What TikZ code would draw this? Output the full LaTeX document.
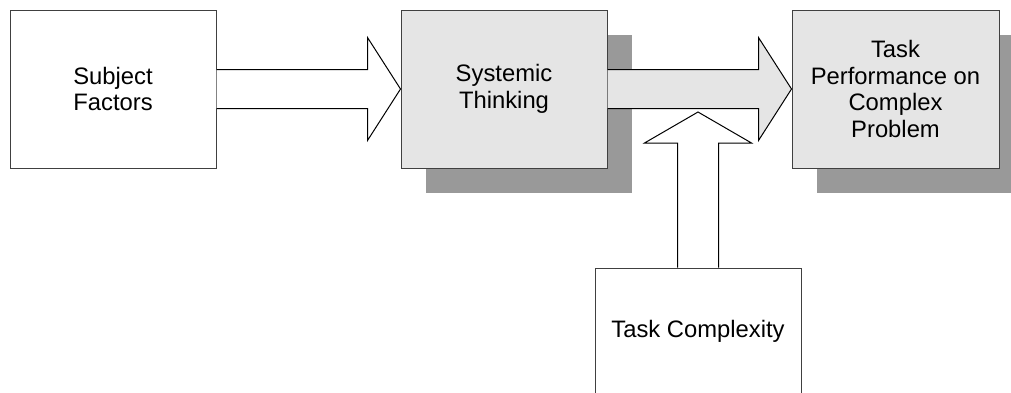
\documentclass[tikz,border=0pt]{standalone}
\usepackage{fontspec}
\setmainfont{Liberation Sans}
\usetikzlibrary{calc,shadows}

\begin{document}
\begin{tikzpicture}[x=0.5pt,y=-0.5pt,
  box/.style={draw=black!75,line width=0.5pt,fill=white,minimum width=103pt,minimum height=79pt,
    inner sep=0pt,align=center,font=\fontsize{11.9}{13.2}\selectfont},
  shadowbox/.style={box,fill=black!10,
    drop shadow={shadow xshift=12.5pt,shadow yshift=-12.5pt,fill=black!40,opacity=1}},
  blockarrow/.style={draw=black,line width=0.5pt,line join=miter}]
\useasboundingbox (0,0) rectangle (1011,392);
\clip (0,0) rectangle (1011,392);

\node[box] (subj) at (113,89) {Subject\\Factors};
\node[shadowbox] (syst) at (504,89) {Systemic\\Thinking};
\node[shadowbox,minimum width=103.5pt] (perf) at (895.5,89) {Task\\Performance on\\Complex\\Problem};
\node[box,minimum height=63pt] (cplx) at (698,331) {Task Complexity};
\coordinate (tip) at (698,112);

  % subject factors -> systemic thinking
  \draw[blockarrow,fill=white] ($(subj.east)+(0,-19.5)$) -- ($(syst.west)+(-33,-19.5)$)
     -- ($(syst.west)+(-33,-51.5)$) -- (syst.west) -- ($(syst.west)+(-33,51.5)$)
     -- ($(syst.west)+(-33,19.5)$) -- ($(subj.east)+(0,19.5)$);
  % systemic thinking -> task performance
  \draw[blockarrow,fill=black!10] ($(syst.east)+(0,-19.5)$) -- ($(perf.west)+(-33,-19.5)$)
     -- ($(perf.west)+(-33,-51.5)$) -- (perf.west) -- ($(perf.west)+(-33,51.5)$)
     -- ($(perf.west)+(-33,19.5)$) -- ($(syst.east)+(0,19.5)$);
  % task complexity -> the link
  \draw[blockarrow,fill=white] ($(cplx.north)+(-20.5,0)$) -- ($(tip)+(-20.5,31)$)
     -- ($(tip)+(-53.5,31)$) -- (tip) -- ($(tip)+(53.5,31)$)
     -- ($(tip)+(20.5,31)$) -- ($(cplx.north)+(20.5,0)$);
\end{tikzpicture}
\end{document}
